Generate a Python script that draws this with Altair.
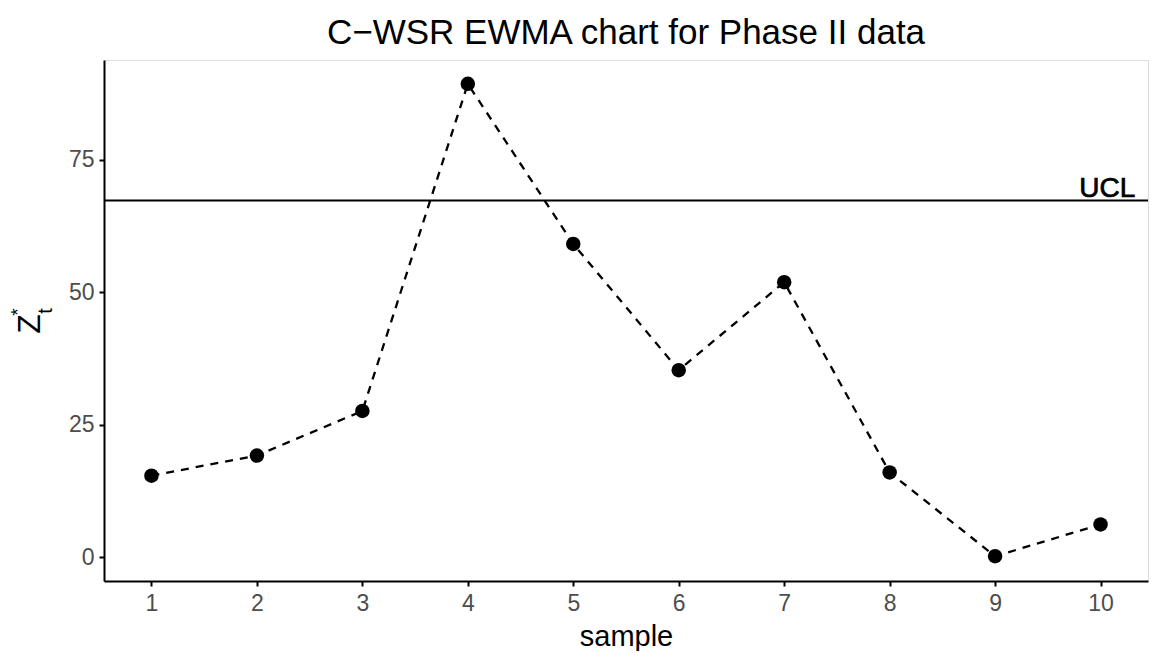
import altair as alt
import pandas as pd

samples = [1, 2, 3, 4, 5, 6, 7, 8, 9, 10]
zt = [15.4, 19.2, 27.6, 89.3, 59.1, 35.3, 51.9, 16.0, 0.2, 6.2]
ucl = 67.3
y_ticks = [0, 25, 50, 75]

df = pd.DataFrame({"sample": samples, "z": zt})
ucl_df = pd.DataFrame({"y": [ucl], "label": ["UCL"], "x": [10.33]})

FONT = "Liberation Sans"
xs = alt.Scale(domain=[0.55, 10.45], nice=False, zero=False)
ys = alt.Scale(domain=[-4.47, 93.8], nice=False, zero=False)

x_axis = alt.Axis(values=samples, format="d", title="sample", titlePadding=7, labelPadding=6)
y_axis = alt.Axis(values=y_ticks, format="d", title=None, labelPadding=5)

base = alt.Chart(df)
line = base.mark_line(color="black", strokeDash=[8, 7], strokeWidth=2.3).encode(
    x=alt.X("sample:Q", scale=xs, axis=x_axis),
    y=alt.Y("z:Q", scale=ys, axis=y_axis),
)
pts = base.mark_circle(color="black", opacity=1, size=210).encode(
    x=alt.X("sample:Q", scale=xs, axis=x_axis), y=alt.Y("z:Q", scale=ys, axis=y_axis)
)
rule = alt.Chart(ucl_df).mark_rule(color="black", strokeWidth=2).encode(
    y=alt.Y("y:Q", scale=ys, axis=y_axis)
)
txt = alt.Chart(ucl_df).mark_text(align="right", baseline="alphabetic", dy=-3, fontSize=28,
                                   font=FONT, color="black", stroke="black", strokeWidth=0.7).encode(
    x=alt.X("x:Q", scale=xs, axis=x_axis), y=alt.Y("y:Q", scale=ys, axis=y_axis), text="label:N"
)

zlab = alt.Chart(pd.DataFrame({"t": ["Z"]})).mark_text(
    angle=270, fontSize=32, font=FONT, color="black", align="center", baseline="middle"
).encode(x=alt.value(-74), y=alt.value(264), text="t:N")
star = alt.Chart(pd.DataFrame({"t": ["*"]})).mark_text(
    angle=270, fontSize=19, font=FONT, color="black", align="center", baseline="middle"
).encode(x=alt.value(-86), y=alt.value(252), text="t:N")
sub = alt.Chart(pd.DataFrame({"t": ["t"]})).mark_text(
    angle=270, fontSize=20, font=FONT, color="black", align="center", baseline="middle"
).encode(x=alt.value(-58), y=alt.value(251), text="t:N")

chart = alt.layer(rule, line, pts, txt, zlab, star, sub).properties(
    width=1044, height=521,
    title=alt.TitleParams("C\u2212WSR EWMA chart for Phase II data", fontSize=35, font=FONT,
                          fontWeight="normal", color="black", anchor="middle", offset=9),
    autosize=alt.AutoSizeParams(type="none"),
    padding={"left": 96, "top": 52, "right": 4, "bottom": 70},
).configure_view(stroke=None).configure(background="white").configure_axis(
    labelFontSize=23, labelColor="#4D4D4D", labelFont=FONT,
    titleFontSize=29, titleFontWeight="normal", titleColor="black", titleFont=FONT,
    domainColor="black", domainWidth=2, tickColor="black", tickWidth=2, tickSize=5,
    grid=False,
)

chart.save("out.html", embed_options={"renderer": "svg", "actions": False})
